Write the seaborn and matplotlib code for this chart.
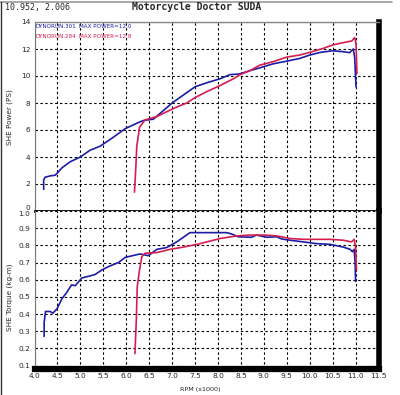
import matplotlib
matplotlib.use("Agg")
import matplotlib.pyplot as plt
from matplotlib.lines import Line2D
import numpy as np
import pandas as pd
import seaborn as sns

# ---------------- data ----------------
runs = ["DYNORUN.301", "DYNORUN.284"]
max_power = ["12.0", "12.8"]

rpm_301_power = [4.20, 4.20, 4.23, 4.34, 4.45, 4.52, 4.60, 4.78, 5.00, 5.21,
                 5.43, 5.65, 5.98, 6.23, 6.37, 6.59, 6.78, 7.00, 7.25, 7.50,
                 7.76, 8.05, 8.26, 8.47, 8.70, 8.91, 9.20, 9.50, 9.78, 10.00,
                 10.23, 10.50, 10.73, 10.87, 10.95, 10.98, 11.01]
power_301 = [1.6, 2.3, 2.5, 2.6, 2.65, 2.9, 3.2, 3.65, 4.0, 4.5,
             4.8, 5.3, 6.1, 6.5, 6.7, 6.8, 7.35, 8.0, 8.6, 9.2,
             9.5, 9.8, 10.1, 10.15, 10.4, 10.6, 10.9, 11.1, 11.3, 11.55,
             11.75, 11.87, 11.8, 11.73, 12.0, 11.4, 9.2]

rpm_284_power = [6.18, 6.21, 6.23, 6.29, 6.41, 6.67, 6.88, 7.10, 7.32, 7.50,
                 7.76, 8.05, 8.34, 8.48, 8.70, 8.91, 9.20, 9.50, 9.78, 10.00,
                 10.30, 10.50, 10.73, 10.92, 10.98, 11.01, 11.03]
power_284 = [1.4, 3.3, 4.8, 6.2, 6.75, 7.0, 7.35, 7.7, 8.0, 8.4,
             8.85, 9.3, 9.8, 10.1, 10.4, 10.8, 11.06, 11.4, 11.55, 11.75,
             12.05, 12.3, 12.47, 12.6, 12.85, 12.4, 10.2]

rpm_301_torque = [4.21, 4.21, 4.24, 4.34, 4.40, 4.49, 4.60, 4.70, 4.81, 4.89,
                  5.03, 5.18, 5.32, 5.47, 5.61, 5.83, 5.98, 6.30, 6.48, 6.67,
                  6.88, 7.10, 7.39, 7.68, 8.19, 8.30, 8.44, 8.73, 8.84, 9.06,
                  9.28, 9.39, 9.57, 9.86, 10.15, 10.44, 10.73, 10.88, 10.93, 10.97,
                  10.99, 11.00]
torque_301 = [0.27, 0.35, 0.415, 0.415, 0.405, 0.43, 0.49, 0.525, 0.57, 0.565,
              0.61, 0.62, 0.63, 0.657, 0.676, 0.70, 0.73, 0.75, 0.74, 0.777,
              0.787, 0.82, 0.874, 0.874, 0.874, 0.866, 0.85, 0.847, 0.86, 0.847,
              0.85, 0.837, 0.83, 0.82, 0.81, 0.806, 0.79, 0.777, 0.763, 0.777,
              0.70, 0.59]

rpm_284_torque = [6.19, 6.22, 6.24, 6.29, 6.34, 6.41, 6.67, 6.96, 7.25, 7.61,
                  8.05, 8.41, 8.70, 9.00, 9.28, 9.57, 9.86, 10.15, 10.44, 10.73,
                  10.91, 10.97, 11.00, 11.02]
torque_284 = [0.17, 0.366, 0.56, 0.657, 0.734, 0.754, 0.758, 0.777, 0.79, 0.81,
              0.84, 0.855, 0.86, 0.86, 0.855, 0.84, 0.835, 0.835, 0.835, 0.83,
              0.82, 0.835, 0.79, 0.657]

x_ticks = [4.0, 4.5, 5.0, 5.5, 6.0, 6.5, 7.0, 7.5, 8.0, 8.5, 9.0, 9.5, 10.0, 10.5, 11.0, 11.5]
power_ticks = [0, 2, 4, 6, 8, 10, 12, 14]
torque_ticks = [0.1, 0.2, 0.3, 0.4, 0.5, 0.6, 0.7, 0.8, 0.9, 1.0]

colors = {"DYNORUN.301": "#1c1ca6", "DYNORUN.284": "#d41e4e"}

# ---------------- tables ----------------
def frame(run, xs, ys, col):
    return pd.DataFrame({"rpm": xs, col: ys, "run": run})

df_power = pd.concat([frame(runs[0], rpm_301_power, power_301, "power"),
                      frame(runs[1], rpm_284_power, power_284, "power")], ignore_index=True)
df_torque = pd.concat([frame(runs[0], rpm_301_torque, torque_301, "torque"),
                       frame(runs[1], rpm_284_torque, torque_284, "torque")], ignore_index=True)

# ---------------- style ----------------
sns.set_style("white")
plt.rcParams["font.family"] = ["DejaVu Sans"]
W, H = 400, 395
fig = plt.figure(figsize=(W / 100, H / 100), dpi=100)
fig.patch.set_facecolor("white")

def fx(x):
    return x / W

def fy(y):
    return 1 - y / H

L, R = 34.5, 378.5
ax1 = fig.add_axes([fx(L), fy(211), fx(R - L), (211 - 22) / H])
ax2 = fig.add_axes([fx(L), fy(369), fx(R - L), (369 - 211) / H])

tick_font = dict(family="DejaVu Sans", size=5.3)

for ax, df, col in [(ax1, df_power, "power"), (ax2, df_torque, "torque")]:
    sns.lineplot(data=df, x="rpm", y=col, hue="run", units="run", estimator=None,
                 sort=False, palette=colors, hue_order=runs, linewidth=1.2,
                 legend=False, ax=ax)
    ax.set_xlim(4.0, 11.5)
    ax.set_xticks(x_ticks)
    ax.grid(True, color="black", linestyle=(0, (2.2, 2.2)), linewidth=0.8)
    ax.set_axisbelow(True)
    ax.set_xlabel("")
    ax.set_ylabel("")
    ax.spines["left"].set_color("#777777")
    ax.spines["left"].set_linewidth(0.8)
    ax.spines["right"].set_color("black")
    ax.spines["right"].set_linewidth(4)

# top panel
ax1.set_ylim(0, 14)
ax1.set_yticks(power_ticks)
ax1.set_yticklabels([str(v) for v in power_ticks], fontdict=tick_font)
ax1.tick_params(axis="x", length=0, labelbottom=False)
ax1.tick_params(axis="y", length=0, pad=3)
ax1.spines["top"].set_color("#888888")
ax1.spines["top"].set_linewidth(1)
ax1.spines["bottom"].set_color("black")
ax1.spines["bottom"].set_linewidth(2)
for lab in ax1.get_yticklabels():
    if lab.get_text() == "0":
        lab.set_va("bottom")

# bottom panel
ax2.set_ylim(0.08, 1.0)
ax2.set_yticks(torque_ticks)
ax2.set_yticklabels([f"{v:.1f}" for v in torque_ticks], fontdict=tick_font)
ax2.set_xticklabels([f"{v:.1f}" for v in x_ticks], fontdict=tick_font)
ax2.set_xticks(np.arange(4.0, 11.55, 0.1), minor=True)
ax2.tick_params(axis="x", which="both", direction="in", length=3.5, width=0.7,
                color="black", pad=3)
ax2.tick_params(axis="y", length=0, pad=3)
ax2.spines["top"].set_visible(False)
ax2.spines["bottom"].set_color("black")
ax2.spines["bottom"].set_linewidth(4.5)
for lab in ax2.get_yticklabels():
    if lab.get_text() == "1.0":
        lab.set_va("top")

# ---------------- texts ----------------
fig.text(fx(200), fy(389.5), "RPM (x1000)", ha="center", va="center", fontsize=4.6)
fig.text(fx(10), fy(117), "SHE Power (PS)", ha="center", va="center", rotation=90, fontsize=5.2)
fig.text(fx(10), fy(297), "SHE Torque (kg-m)", ha="center", va="center", rotation=90, fontsize=5.2)
fig.text(fx(5), fy(7.5), "10.952, 2.006", ha="left", va="center", fontsize=6, family="DejaVu Sans Mono")
fig.text(fx(197), fy(6.5), "Motorcycle Doctor SUDA", ha="center", va="center", fontsize=7,
         family="DejaVu Sans Mono", fontweight="bold")

legend_y = [26.5, 36.5]
for run, mp, yy in zip(runs, max_power, legend_y):
    fig.text(fx(36), fy(yy), run, ha="left", va="center", fontsize=4.1, color=colors[run])
    fig.text(fx(79), fy(yy), f"MAX POWER={mp}", ha="left", va="center", fontsize=4.1,
             color=colors[run])

# window frame
fig.add_artist(Line2D([0, fx(392)], [fy(2), fy(2)], color="#9a9a9a", linewidth=1.2,
                      transform=fig.transFigure))
fig.add_artist(Line2D([fx(0.8), fx(0.8)], [fy(2), fy(395)], color="#333333", linewidth=1.0,
                      transform=fig.transFigure))

fig.savefig("out.png", dpi=100, facecolor="white")
